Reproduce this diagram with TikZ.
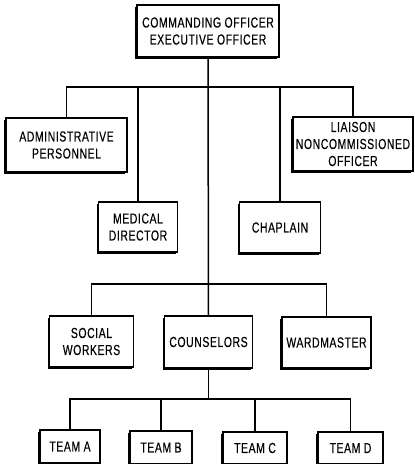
\documentclass[tikz,border=0pt]{standalone}
\usepackage{fontspec}
\setmainfont[FakeStretch=0.72,LetterSpace=4,FakeBold=0.3]{Liberation Sans}
\usetikzlibrary{shadows}
\begin{document}
\begin{tikzpicture}[x=1pt,y=-1pt,
  box/.style={draw, line width=1.3pt, fill=white, align=center, inner sep=0pt,
    font=\fontsize{14.5}{17}\selectfont,
    drop shadow={shadow xshift=-1.6pt, shadow yshift=-1.6pt, fill=black, opacity=1}},
  link/.style={line width=1.5pt}]
\useasboundingbox (0,0) rectangle (415,464);
\node[box, minimum width=142pt, minimum height=52pt] (co) at (208,31) {COMMANDING OFFICER\\EXECUTIVE OFFICER};
\node[box, minimum width=121pt, minimum height=54pt] (adm) at (66.5,145) {ADMINISTRATIVE\\PERSONNEL};
\node[box, minimum width=120pt, minimum height=54pt] (lia) at (353,144) {LIAISON\\NONCOMMISSIONED\\OFFICER};
\node[box, minimum width=79pt, minimum height=50pt] (med) at (138,227) {MEDICAL\\DIRECTOR};
\node[box, minimum width=81pt, minimum height=51pt] (chap) at (280,227.5) {CHAPLAIN};
\node[box, minimum width=84pt, minimum height=51pt] (soc) at (91.5,341.5) {SOCIAL\\WORKERS};
\node[box, minimum width=88pt, minimum height=52pt] (cou) at (208.5,342) {COUNSELORS};
\node[box, minimum width=89pt, minimum height=51pt] (war) at (326.5,342.5) {WARDMASTER};
\node[box, minimum width=60pt, minimum height=33pt] (ta) at (70,446.5) {TEAM A};
\node[box, minimum width=62pt, minimum height=33pt] (tb) at (161,447.5) {TEAM B};
\node[box, minimum width=64pt, minimum height=32pt] (tc) at (255,448) {TEAM C};
\node[box, minimum width=65pt, minimum height=32pt] (td) at (350.5,448) {TEAM D};
\coordinate (b1) at (208.5,87);
\coordinate (b2) at (208.5,284);
\coordinate (b3) at (208.5,399);
\draw[link] (co.south) -- (cou.north);
\draw[link] (adm.north) |- (b1) -| (lia.north);
\draw[link] (med.north) |- (b1);
\draw[link] (chap.north) |- (b1);
\draw[link] (soc.north) |- (b2) -| (war.north);
\draw[link] (cou.south) -- (b3);
\draw[link] (ta.north) |- (b3) -| (td.north);
\draw[link] (tb.north) |- (b3);
\draw[link] (tc.north) |- (b3);
\end{tikzpicture}
\end{document}
